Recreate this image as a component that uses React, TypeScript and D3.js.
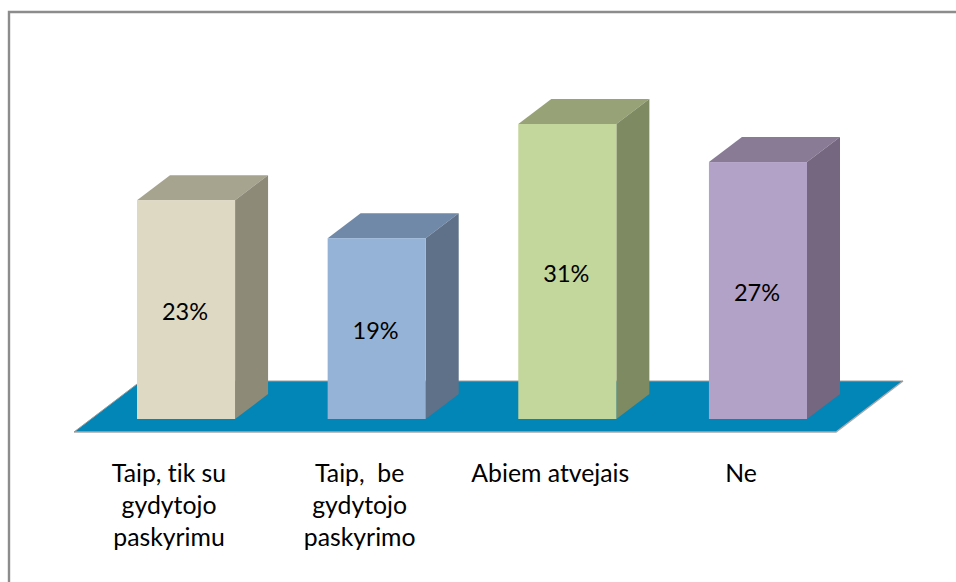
import React from "react";
import * as d3 from "d3";

const categories = ["Taip, tik su|gydytojo|paskyrimu", "Taip,  be|gydytojo|paskyrimo", "Abiem atvejais", "Ne"];
const values = [23, 19, 31, 27];
const labels = ["23%", "19%", "31%", "27%"];
const frontColors = ["#DDD9C3", "#95B3D7", "#C3D69B", "#B2A2C7"];
const topColors = ["#A6A38F", "#7089A8", "#97A276", "#897A96"];
const sideColors = ["#8D8A78", "#5F7189", "#7E8A62", "#75677F"];

const W = 956, H = 582;
const dx = 33, dy = 25;
const font = "Lato";

export default function App() {
  const x = d3.scaleBand<number>().domain(d3.range(4)).range([137, 807]).paddingInner(0.4856).paddingOuter(0);
  const bw = x.bandwidth();
  const y = d3.scaleLinear().domain([0, 31]).range([419, 124]);
  const line = d3.line();
  const floor = line([[74, 432], [836, 432], [903, 381], [141, 381]])! + "Z";
  const textStyle: React.CSSProperties = { whiteSpace: "pre", fontVariantLigatures: "none" };
  return (
    <svg width={W} height={H} viewBox={`0 0 ${W} ${H}`} style={{ position: "absolute", left: 0, top: 0, background: "#fff" }}>
      <path d={line([[9, H], [9, 12], [W, 12]])!} fill="none" stroke="#8c8c8c" strokeWidth={2.4} />
      <path d={floor} fill="#0286B8" />
      <path d={line([[74, 432], [836, 432], [903, 381]])!} fill="none" stroke="#a9a9a9" strokeWidth={1.5} />
      <path d={line([[74, 432], [141, 381], [903, 381]])!} fill="none" stroke="#9a9a9a" strokeWidth={1} />
      {values.map((v, i) => {
        const x0 = x(i)!, x1 = x0 + bw, top = y(v), b = y(0);
        return (
          <g key={i}>
            <path d={line([[x0, top], [x1, top], [x1 + dx, top - dy], [x0 + dx, top - dy]])! + "Z"} fill={topColors[i]} />
            <path d={line([[x1, top], [x1 + dx, top - dy], [x1 + dx, b - dy], [x1, b]])! + "Z"} fill={sideColors[i]} />
            <rect x={x0} y={top} width={bw} height={b - top} fill={frontColors[i]} />
            <text x={x0 + bw / 2 - 1} y={(top + b) / 2 + 10} textAnchor="middle" fontFamily={font} fontSize={23.5} fill="#000" style={textStyle}>{labels[i]}</text>
            {categories[i].split("|").map((t, j) => (
              <text key={j} x={x0 + bw / 2 - 17} y={482 + j * 32} textAnchor="middle" fontFamily={font} fontSize={24.8} fill="#000" style={textStyle}>{t}</text>
            ))}
          </g>
        );
      })}
    </svg>
  );
}
